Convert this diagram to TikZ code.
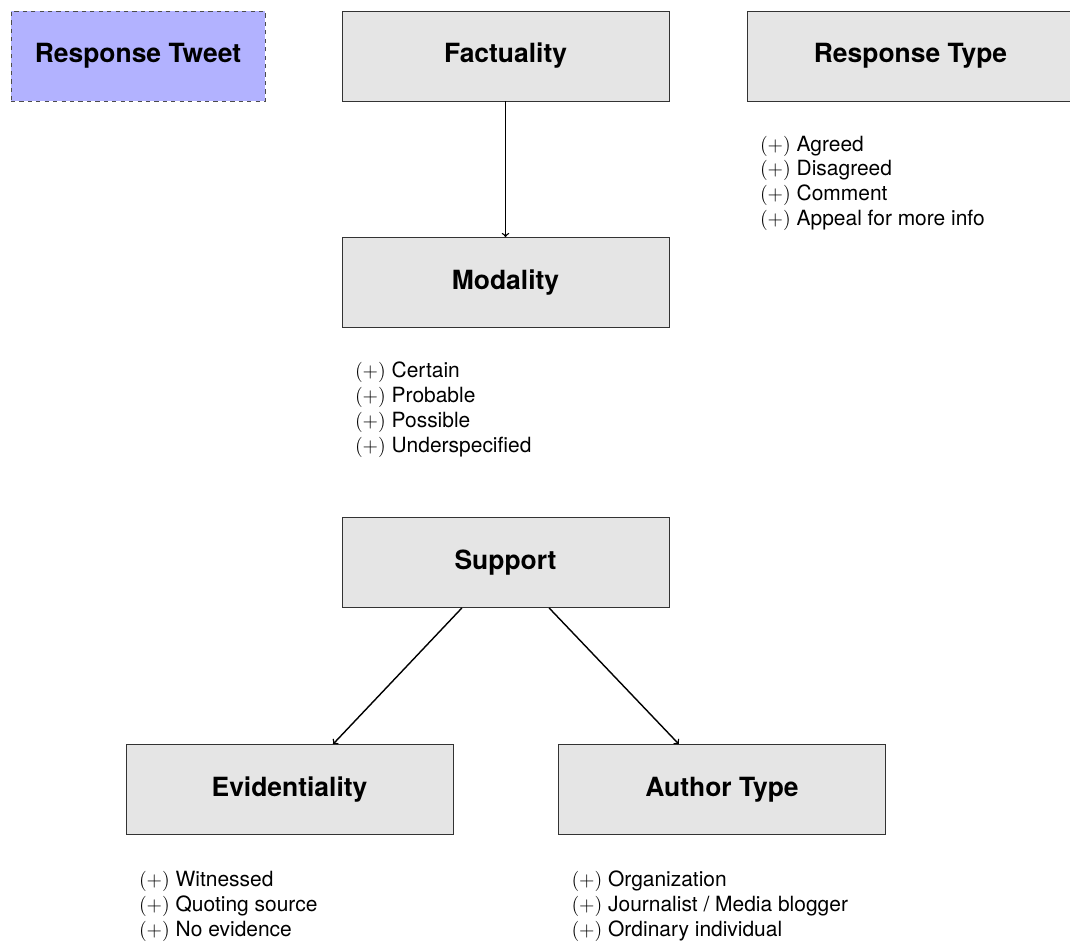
\documentclass[tikz,border=0pt]{standalone}
\usepackage{fontspec}
\setmainfont{TeX Gyre Heros}
\usepackage{xcolor}
\usetikzlibrary{arrows,positioning}

\tikzset{
  catbox/.style={rectangle,draw=black!80,fill=gray!20,line width=0.6pt,
    minimum width=8.175cm,minimum height=2.25cm,inner sep=0pt,
    font=\fontsize{18.8}{22}\selectfont\bfseries},
  tweetbox/.style={catbox,fill=blue!30,draw=black!70,dashed,minimum width=6.35cm},
  valuelist/.style={align=left,inner sep=0pt,font=\fontsize{14.9}{17.7}\selectfont},
  link/.style={->,>=to,line width=1pt}
}

\begin{document}
\begin{tikzpicture}[x=0.025cm,y=-0.025cm]
\useasboundingbox (0,0) rectangle (1070,943);

\node[tweetbox] (tweet) at (138,56) {Response Tweet};
\node[catbox] (fac) at (505.5,56) {Factuality};
\node[catbox] (rtype) at (910.5,56) {Response Type};
\node[catbox] (mod) at (505.5,282.5) {Modality};
\node[catbox] (sup) at (505.5,562.5) {Support};
\node[catbox] (evid) at (289.5,789.5) {Evidentiality};
\node[catbox] (auth) at (722,789.5) {Author Type};

\node[valuelist] (rtypevals) [below right=0.85cm and 0.33cm of rtype.south west]
  {$(+)$ Agreed\\$(+)$ Disagreed\\$(+)$ Comment\\$(+)$ Appeal for more info};
\node[valuelist] (modvals) [below right=0.85cm and 0.33cm of mod.south west]
  {$(+)$ Certain\\$(+)$ Probable\\$(+)$ Possible\\$(+)$ Underspecified};
\node[valuelist] (evidvals) [below right=0.9cm and 0.33cm of evid.south west]
  {$(+)$ Witnessed\\$(+)$ Quoting source\\$(+)$ No evidence};
\node[valuelist] (authvals) [below right=0.9cm and 0.33cm of auth.south west]
  {$(+)$ Organization\\$(+)$ Journalist / Media blogger\\$(+)$ Ordinary individual};

\draw[link] (fac) -- (mod);
\draw[link] ([xshift=-1.09cm]sup.south) -- ([xshift=1.09cm]evid.north);
\draw[link] ([xshift=1.09cm]sup.south) -- ([xshift=-1.08cm]auth.north);

\end{tikzpicture}
\end{document}
